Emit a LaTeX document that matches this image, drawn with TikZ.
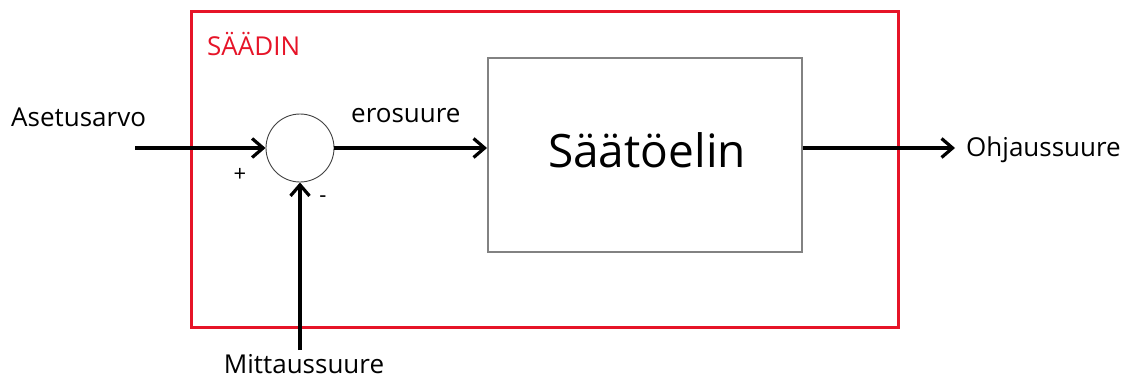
\documentclass[tikz,border=0pt]{standalone}
\usepackage{fontspec}
\setmainfont{Open Sans}
\usetikzlibrary{arrows.meta}
\definecolor{ctrlred}{RGB}{230,20,40}
\definecolor{boxgray}{RGB}{130,130,130}
\tikzset{
  sig/.style={line width=3.2pt, -{Straight Barb[length=11pt,width=19pt,line width=3.2pt]}},
  lbl/.style={font=\fontsize{26}{28}\selectfont, inner sep=0pt},
  sign/.style={font=\fontsize{22}{24}\selectfont, inner sep=0pt},
}
\begin{document}
\begin{tikzpicture}[x=1pt,y=-1pt]
\useasboundingbox (0,0) rectangle (1133,380);
% controller boundary
\node[draw=ctrlred, line width=2.6pt, minimum width=707pt, minimum height=316pt, anchor=north west, inner sep=0pt] (ctrl) at (190,10) {};
\node[lbl, text=ctrlred, anchor=west] (ctrlname) at (207,44) {SÄÄDIN};
% summing junction and actuator
\node[circle, draw=black!75, line width=0.9pt, minimum size=68pt, inner sep=0pt] (sum) at (300,148) {};
\node[draw=boxgray, line width=1.5pt, minimum width=314pt, minimum height=194pt, inner sep=0pt, anchor=north west] (act) at (487,57) {};
\node[font=\fontsize{46}{50}\selectfont, inner sep=0pt] (acttext) at (647,150) {Säätöelin};
% signal labels
\node[lbl, anchor=west] (setp) at (11,117) {Asetusarvo};
\node[lbl, anchor=west] (err) at (351,116) {erosuure};
\node[lbl, anchor=west] (out) at (966,150) {Ohjaussuure};
\node[lbl, anchor=center] (meas) at (304,364) {Mittaussuure};
\node[sign] (plus) at (240,175) {+};
\node[sign] (minus) at (323,199) {-};
% signal paths
\coordinate (setin) at (135,148);
\coordinate (measin) at (300,350);
\coordinate (outend) at (955,148);
\draw[sig] (setin) -- (sum.west);
\draw[sig] (sum.east) -- (sum.east -| act.west);
\draw[sig] (measin) -- (sum.south);
\draw[sig] (act.east |- sum.east) -- (outend);
\end{tikzpicture}
\end{document}
